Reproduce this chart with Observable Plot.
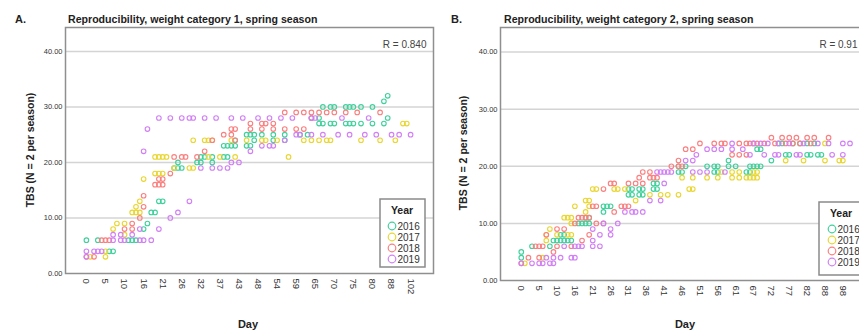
<!DOCTYPE html>
<html><head><meta charset="utf-8">
<script src="https://cdn.jsdelivr.net/npm/d3@7"></script>
<script src="https://cdn.jsdelivr.net/npm/@observablehq/plot@0.6"></script>
<style>
html,body{margin:0;padding:0;background:#fff;overflow:hidden;width:859px;height:332px;}
#root{position:relative;width:859px;height:332px;overflow:hidden;font-family:"Liberation Sans",Arial,sans-serif;}
.panel{position:absolute;top:0;}
.panel svg{max-width:none;}
</style></head><body><div id="root"></div><script>
const years = ["2016","2017","2018","2019"];
const yearColors = ["#3fd19c","#e9d630","#fb7f7f","#d17ff5"];

const daysA = [0,1,2,3,4,5,6,7,8,9,10,11,12,13,14,16,17,18,19,20,21,22,23,24,25,26,28,29,30,31,32,33,34,35,36,37,38,39,40,42,43,44,45,46,47,48,49,50,51,53,54,55,56,57,58,59,60,61,62,64,65,66,67,68,69,70,71,72,73,74,75,76,77,78,79,80,81,82,84,86,88,89,91,94,97,102];
const ticksA = [0,5,10,16,21,26,32,37,43,48,54,59,65,70,75,80,88,102];
const daysB = [0,1,2,3,4,5,6,7,8,9,10,11,12,13,14,16,17,18,19,20,21,22,23,24,25,26,27,28,29,30,31,32,33,34,35,36,37,38,39,40,41,42,43,44,45,46,47,48,49,50,51,52,53,54,55,56,57,58,59,60,61,62,63,64,65,67,68,69,70,71,72,73,74,75,76,77,78,79,80,81,82,83,84,85,86,88,89,91,93,95,98,100,102,105,108,110];
const ticksB = [0,5,10,16,21,26,31,36,41,46,51,56,61,67,72,77,82,88,98];
const yTicks = [0,10,20,30,40];

// Panel A: [day, TBS]
const a2016 = [[0,6],[3,6],[6,4],[7,4],[11,6],[12,6],[13,6],[16,8],[17,9],[18,11],[19,11],[20,13],[21,13],[24,19],[25,19],[26,19],[25,20],[31,20],[32,20],[32,21],[33,21],[35,20],[35,21],[38,23],[39,23],[40,23],[42,23],[42,24],[38,21],[39,21],[45,25],[46,25],[47,25],[45,23],[46,23],[49,25],[47,24],[53,25],[53,24],[56,25],[56,24],[60,25],[62,25],[64,28],[66,27],[66,28],[67,27],[67,30],[69,27],[69,30],[70,27],[70,30],[73,27],[73,30],[74,27],[74,30],[75,27],[75,30],[77,27],[77,30],[80,27],[80,30],[84,27],[84,31],[86,28],[86,32]];
const a2017 = [[1,3],[5,3],[5,4],[7,8],[8,9],[10,9],[10,7],[12,11],[13,11],[14,11],[13,12],[14,13],[16,17],[19,18],[20,18],[21,18],[19,21],[20,21],[21,21],[22,21],[24,19],[29,19],[30,19],[30,24],[33,24],[34,24],[35,24],[34,21],[37,21],[40,24],[42,21],[45,24],[49,24],[50,24],[54,24],[57,21],[61,24],[64,24],[66,24],[68,24],[69,24],[77,24],[82,24],[89,24],[94,27],[97,27]];
const a2018 = [[0,3],[2,3],[4,6],[5,6],[6,6],[10,8],[12,8],[12,9],[14,10],[16,12],[16,14],[19,16],[20,16],[21,16],[20,17],[21,17],[23,18],[24,21],[26,21],[28,21],[31,21],[33,22],[35,24],[38,25],[40,25],[40,26],[42,26],[42,24],[46,27],[46,26],[49,27],[49,26],[50,27],[53,27],[53,26],[56,29],[56,26],[59,29],[59,26],[61,29],[61,26],[64,29],[64,28],[66,29],[68,29],[70,29],[73,29],[76,29],[82,29]];
const a2019 = [[0,3],[0,4],[2,4],[3,4],[4,4],[7,6],[9,6],[10,6],[14,6],[16,6],[18,6],[7,7],[9,7],[12,7],[14,8],[20,8],[23,10],[25,11],[29,13],[16,22],[17,26],[20,28],[23,28],[26,28],[29,28],[30,28],[33,28],[36,28],[40,28],[44,28],[48,28],[51,28],[55,28],[58,28],[64,28],[65,28],[72,28],[79,28],[32,19],[35,19],[37,19],[39,19],[40,20],[43,20],[46,22],[49,23],[51,23],[53,23],[56,24],[59,25],[60,25],[64,25],[67,25],[71,25],[74,25],[78,25],[81,25],[88,25],[91,25],[102,25]];

// Panel B: [day, TBS]
const b2016 = [[0,4],[0,5],[3,6],[8,6],[9,7],[10,7],[11,7],[11,8],[12,7],[12,8],[13,7],[14,7],[17,10],[18,10],[19,10],[20,10],[19,11],[20,11],[24,12],[24,13],[25,13],[26,13],[31,15],[32,15],[31,16],[32,16],[34,15],[35,15],[34,16],[35,16],[38,17],[39,17],[38,16],[39,16],[45,19],[46,19],[45,20],[47,20],[53,20],[55,20],[56,20],[55,19],[56,19],[59,21],[59,20],[61,20],[64,19],[65,19],[65,20],[67,20],[68,20],[69,20],[68,23],[69,23],[72,21],[76,22],[77,22],[82,22],[83,22],[85,22],[86,22],[74,24],[75,24],[78,24],[80,24],[82,24],[84,24]];
const b2017 = [[1,3],[6,4],[7,7],[7,8],[8,9],[10,8],[13,8],[14,8],[12,11],[13,11],[14,11],[14,10],[16,13],[19,14],[20,14],[19,12],[20,13],[21,16],[22,16],[27,16],[28,16],[30,16],[33,14],[37,15],[40,15],[42,15],[45,15],[46,18],[49,18],[48,16],[49,16],[53,18],[56,18],[57,19],[60,19],[62,19],[60,18],[62,18],[64,18],[65,18],[67,18],[67,19],[68,19],[68,18],[76,21],[81,21],[88,21],[88,24],[95,21],[98,21]];
const b2018 = [[0,3],[2,4],[5,4],[4,6],[5,6],[6,6],[7,8],[9,5],[10,6],[14,6],[10,9],[12,9],[16,10],[17,11],[18,11],[19,11],[20,11],[18,7],[21,13],[22,13],[20,8],[22,10],[24,10],[24,16],[26,17],[27,17],[27,12],[29,13],[30,13],[31,13],[31,17],[33,17],[35,17],[34,18],[35,19],[37,19],[37,18],[38,18],[39,18],[43,20],[45,20],[46,20],[45,21],[47,23],[49,23],[51,24],[55,24],[57,24],[58,24],[60,22],[62,22],[64,22],[62,24],[64,24],[65,24],[67,24],[68,24],[70,24],[73,24],[76,24],[78,24],[80,24],[83,24],[72,25],[75,25],[77,25],[79,25],[82,25],[84,25],[89,25]];
const b2019 = [[0,3],[3,3],[5,3],[6,3],[8,3],[9,3],[7,4],[9,4],[11,4],[14,4],[16,4],[12,6],[16,6],[17,6],[18,6],[21,6],[23,6],[21,7],[23,8],[26,8],[21,9],[26,9],[24,10],[28,10],[30,12],[32,12],[33,12],[35,12],[37,14],[40,14],[41,17],[39,19],[40,19],[41,19],[42,19],[43,19],[47,21],[49,21],[49,19],[51,19],[53,19],[58,19],[50,22],[53,23],[55,23],[57,23],[60,23],[63,23],[60,24],[65,22],[70,22],[73,22],[74,22],[79,22],[80,22],[91,22],[98,22],[67,24],[69,24],[71,24],[74,24],[77,24],[81,24],[85,24],[89,24],[98,24],[102,24]];

function toRows(seriesList){
  const rows=[];
  seriesList.forEach((s,i)=>s.forEach(([day,tbs])=>rows.push({day,tbs,year:years[i]})));
  return rows;
}
const dataA = toRows([a2016,a2017,a2018,a2019]);
const dataB = toRows([b2016,b2017,b2018,b2019]);

function panel(o){
  return Plot.plot({
    width:o.width, height:332, marginTop:27, marginBottom:o.marginBottom,
    marginLeft:o.marginLeft, marginRight:o.marginRight,
    style:{background:"transparent", fontFamily:"'Liberation Sans', Arial, sans-serif", color:"#333", overflow:"visible"},
    x:{type:"point", domain:o.days, range:o.xRange},
    y:{domain:[0,44.3]},
    color:{domain:years, range:yearColors},
    marks:[
      Plot.ruleY(yTicks.slice(1),{stroke:"#d4d4d4", strokeWidth:1.5}),
      Plot.frame({stroke:"#8f8f8f", strokeWidth:1.5}),
      Plot.axisX({ticks:o.ticks, tickRotate:90, tickSize:0, tickPadding:5, fontSize:9.5, label:null}),
      Plot.axisY({ticks:yTicks, tickFormat:d=>d.toFixed(2), tickSize:0, tickPadding:3, fontSize:7.5, label:null}),
      Plot.dot(o.data,{x:"day", y:"tbs", stroke:"year", r:2.3, strokeWidth:1.1}),
      Plot.text([o.rText],{frameAnchor:"top-right", dx:o.rDx, dy:13, fontSize:10, fill:"#444"})
    ]
  });
}

const root = document.getElementById("root");
const pA = document.createElement("div"); pA.className="panel"; pA.style.left="0px"; pA.style.width="440px";
pA.appendChild(panel({width:440, marginLeft:65, marginRight:7, marginBottom:59, days:daysA, ticks:ticksA, xRange:[84,412], data:dataA, rText:"R = 0.840", rDx:-7}));
root.appendChild(pA);
const pB = document.createElement("div"); pB.className="panel"; pB.style.left="430px"; pB.style.width="445px";
pB.appendChild(panel({width:445, marginLeft:70, marginRight:5, marginBottom:52, days:daysB, ticks:ticksB, xRange:[89,432], data:dataB, rText:"R = 0.91", rDx:-13}));
root.appendChild(pB);

// Overlay: titles, axis labels, legends
const ov = d3.select(root).append("svg").attr("width",859).attr("height",332)
  .style("position","absolute").style("left","0px").style("top","0px")
  .style("font-family","'Liberation Sans', Arial, sans-serif");
function t(x,y,s,opt={}){
  const e = ov.append("text").attr("x",x).attr("y",y).text(s)
    .attr("font-size",opt.size||11).attr("font-weight",opt.bold?"bold":"normal")
    .attr("fill",opt.fill||"#222").attr("text-anchor",opt.anchor||"start");
  if(opt.rotate) e.attr("transform",`rotate(${opt.rotate},${x},${y})`);
  return e;
}
t(15,23,"A.",{bold:true,size:11});
t(68,23,"Reproducibility, weight category 1, spring season",{bold:true,size:10.6});
t(451,23,"B.",{bold:true,size:11});
t(504,23,"Reproducibility, weight category 2, spring season",{bold:true,size:10.6});
t(34,150,"TBS (N = 2 per season)",{bold:true,size:10.5,anchor:"middle",rotate:-90});
t(467,153,"TBS (N = 2 per season)",{bold:true,size:10.5,anchor:"middle",rotate:-90});
t(248,328,"Day",{bold:true,size:11,anchor:"middle"});
t(685,328,"Day",{bold:true,size:11,anchor:"middle"});

function legend(x,y,w,h,titleX,titleY,cx,cys,tx){
  ov.append("rect").attr("x",x).attr("y",y).attr("width",w).attr("height",h)
    .attr("fill","#fff").attr("stroke","#8a8a8a").attr("stroke-width",1.5);
  t(titleX,titleY,"Year",{bold:true,size:10.5,anchor:"middle"});
  years.forEach((yr,i)=>{
    ov.append("circle").attr("cx",cx).attr("cy",cys[i]).attr("r",3.8)
      .attr("fill","none").attr("stroke",yearColors[i]).attr("stroke-width",1.2);
    t(tx,cys[i]+3.6,yr,{size:10,fill:"#333"});
  });
}
legend(380,199,45,68,402,214,392,[226,237,248,259],397.5);
legend(819,202,60,73,841,217,832,[229,240,251,262],837.5);
</script></body></html>
